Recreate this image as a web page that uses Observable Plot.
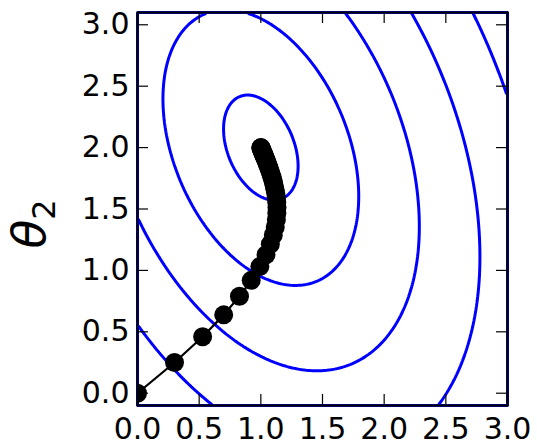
<!DOCTYPE html>
<html>
<head>
<meta charset="utf-8">
<script src="https://cdn.jsdelivr.net/npm/d3@7"></script>
<script src="https://cdn.jsdelivr.net/npm/@observablehq/plot@0.6"></script>
<style>
  html, body { margin: 0; padding: 0; background: #fff; }
  #chart { width: 537px; height: 447px; }
</style>
</head>
<body>
<div id="chart"></div>
<script>
// Tick values
const xTicks = [0, 0.5, 1, 1.5, 2, 2.5, 3];
const yTicks = [0, 0.5, 1, 1.5, 2, 2.5, 3];
const xDomain = [0, 3];
const yDomain = [-0.1, 3.1];

const center = [1, 2];
const coefs = [2, 1, 1];
const levels = [0.16, 1.1025, 2.89, 5.5225, 9];

// Gradient-descent path
const pathX = [0, 0.300, 0.528, 0.699, 0.827, 0.922, 0.992, 1.042, 1.077, 1.101, 1.117, 1.126, 1.130, 1.131, 1.129, 1.125, 1.121, 1.115, 1.109, 1.103, 1.097, 1.091, 1.085, 1.079, 1.073, 1.068, 1.063, 1.058, 1.054, 1.050, 1.046, 1.043, 1.039, 1.036, 1.033, 1.031, 1.028, 1.026, 1.024, 1.022, 1.021, 1.017, 1.014, 1.011, 1.009, 1.006, 1.004, 1.002, 1.001, 1.000];
const pathY = [0, 0.250, 0.460, 0.638, 0.789, 0.919, 1.031, 1.128, 1.213, 1.288, 1.354, 1.413, 1.465, 1.512, 1.555, 1.593, 1.627, 1.658, 1.687, 1.713, 1.736, 1.758, 1.777, 1.796, 1.812, 1.827, 1.841, 1.854, 1.865, 1.876, 1.886, 1.895, 1.904, 1.911, 1.918, 1.925, 1.931, 1.936, 1.941, 1.946, 1.950, 1.958, 1.966, 1.973, 1.978, 1.986, 1.991, 1.996, 1.998, 2.000];

const path = pathX.map((x, i) => ({x, y: pathY[i]}));
const cost = (x, y) => {
  const u = x - center[0], v = y - center[1];
  return coefs[0] * u * u + coefs[1] * u * v + coefs[2] * v * v;
};

const W = 537, H = 447;
const mL = 137, mR = 30, mT = 12, mB = 42;
const frameH = H - mT - mB;
const frameW = W - mL - mR;
const tickLen = 11;
const fmt = d3.format(".1f");

const chart = Plot.plot({
  width: W,
  height: H,
  marginLeft: mL,
  marginRight: mR,
  marginTop: mT,
  marginBottom: mB,
  style: {fontFamily: "DejaVu Sans", fontSize: "30px", background: "white", color: "black"},
  x: {domain: xDomain, axis: null},
  y: {domain: yDomain, axis: null},
  marks: [
    Plot.contour({
      value: cost,
      x1: xDomain[0], x2: xDomain[1], y1: yDomain[0], y2: yDomain[1],
      thresholds: levels,
      fill: "none",
      stroke: "#0000ff",
      strokeWidth: 3
    }),
    Plot.line(path, {x: "x", y: "y", stroke: "black", strokeWidth: 2.2, clip: true}),
    Plot.dot(path, {x: "x", y: "y", r: 9.5, fill: "black", stroke: "none", clip: true}),
    // inward ticks on all four sides
    Plot.tickX(xTicks, {x: d => d, insetTop: frameH - tickLen, stroke: "black", strokeWidth: 1.2}),
    Plot.tickX(xTicks, {x: d => d, insetBottom: frameH - tickLen, stroke: "black", strokeWidth: 1.2}),
    Plot.tickY(yTicks, {y: d => d, insetRight: frameW - tickLen, stroke: "black", strokeWidth: 1.2}),
    Plot.tickY(yTicks, {y: d => d, insetLeft: frameW - tickLen, stroke: "black", strokeWidth: 1.2}),
    Plot.axisX(xTicks, {tickSize: 0, tickPadding: 12, tickFormat: fmt, label: null, fontSize: 30}),
    Plot.axisY(yTicks, {tickSize: 0, tickPadding: 8, tickFormat: fmt, label: null, fontSize: 30}),
    Plot.frame({stroke: "black", strokeWidth: 2.2})
  ]
});

document.getElementById("chart").appendChild(chart);

// y-axis label θ₂
const lab = d3.select(chart).append("text")
  .attr("transform", "translate(45,224) rotate(-90)")
  .attr("font-family", "DejaVu Sans")
  .attr("font-size", 47)
  .attr("fill", "black");
lab.append("tspan").attr("font-style", "italic").text("θ");
lab.append("tspan").attr("font-size", 32).attr("dy", 10).text("2");
</script>
</body>
</html>
